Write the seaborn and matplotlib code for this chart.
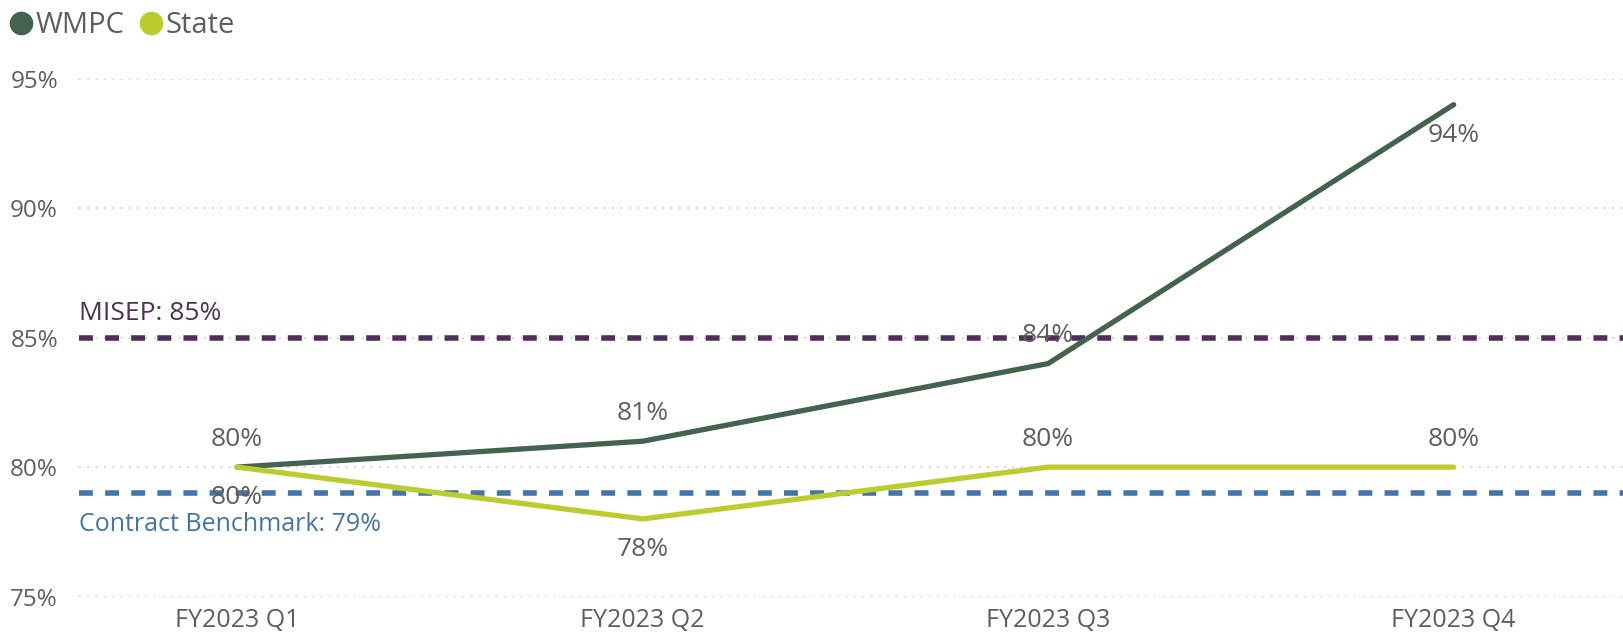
import matplotlib
matplotlib.use("Agg")
import matplotlib.pyplot as plt
import seaborn as sns
import pandas as pd
from matplotlib.lines import Line2D

quarters = ["FY2023 Q1", "FY2023 Q2", "FY2023 Q3", "FY2023 Q4"]
wmpc = [80, 81, 84, 94]
state = [80, 78, 80, 80]
misep = 85
benchmark = 79
yticks = [75, 80, 85, 90, 95]

sns.set_theme(style="white")
plt.rcParams['font.family'] = ['Open Sans', 'DejaVu Sans']

TXT = "#605E5C"
C_WMPC = "#44634F"
C_STATE = "#BACD2D"
C_MISEP = "#512D5A"
C_BENCH = "#4276AA"

df = pd.DataFrame({
    "Quarter": quarters * 2,
    "Value": wmpc + state,
    "Series": ["WMPC"] * 4 + ["State"] * 4,
})

fig = plt.figure(figsize=(16.24, 6.35), dpi=100)
ax = fig.add_axes([0.0486, 0.0605, 0.9514, 0.8155])

sns.lineplot(data=df, x="Quarter", y="Value", hue="Series",
             palette={"WMPC": C_WMPC, "State": C_STATE},
             hue_order=["WMPC", "State"], linewidth=3.8, ax=ax,
             legend=False, sort=False, solid_capstyle="round")

ax.axhline(misep, color=C_MISEP, lw=4, ls=(0, (2.5, 2.2)), zorder=1)
ax.axhline(benchmark, color=C_BENCH, lw=4, ls=(0, (2.5, 2.2)), zorder=1)

ax.set_xlim(-0.39, 3.42)
ax.set_ylim(75, 95)
ax.set_yticks(yticks)
ax.set_yticklabels([f"{v}%" for v in yticks])
ax.set_xlabel("")
ax.set_ylabel("")
ax.tick_params(axis="y", length=0, labelsize=17.5, labelcolor=TXT, pad=15)
ax.tick_params(axis="x", length=0, labelsize=18, labelcolor=TXT, pad=8)
ax.grid(axis="y", color="#C8C8C8", ls=(0, (1, 4)), lw=1.2)
ax.grid(axis="x", visible=False)
for s in ax.spines.values():
    s.set_visible(False)

# data labels
wmpc_pos = ["above", "above", "above", "below"]
state_pos = ["below", "below", "above", "above"]
for series, pos in ((wmpc, wmpc_pos), (state, state_pos)):
    for i, (v, p) in enumerate(zip(series, pos)):
        off = 11 if p == "above" else -13
        ax.annotate(f"{v}%", (i, v), xytext=(0, off), textcoords="offset points",
                    ha="center", va="bottom" if p == "above" else "top",
                    fontsize=19, color=TXT)

ax.text(0.0, misep + 0.45, f"MISEP: {misep}%", transform=ax.get_yaxis_transform(),
        color=C_MISEP, fontsize=19, ha="left", va="bottom")
ax.text(0.0, benchmark - 0.75, f"Contract Benchmark: {benchmark}%",
        transform=ax.get_yaxis_transform(),
        color=C_BENCH, fontsize=18, ha="left", va="top")

handles = [Line2D([], [], marker="o", ls="", color=C_WMPC, markersize=16),
           Line2D([], [], marker="o", ls="", color=C_STATE, markersize=16)]
fig.legend(handles, ["WMPC", "State"], loc="upper left", bbox_to_anchor=(-0.014, 1.024),
           ncol=2, frameon=False, fontsize=21, handletextpad=-0.1,
           columnspacing=0.3, labelcolor=TXT, handlelength=1.2)

fig.savefig("out.png", dpi=100)
